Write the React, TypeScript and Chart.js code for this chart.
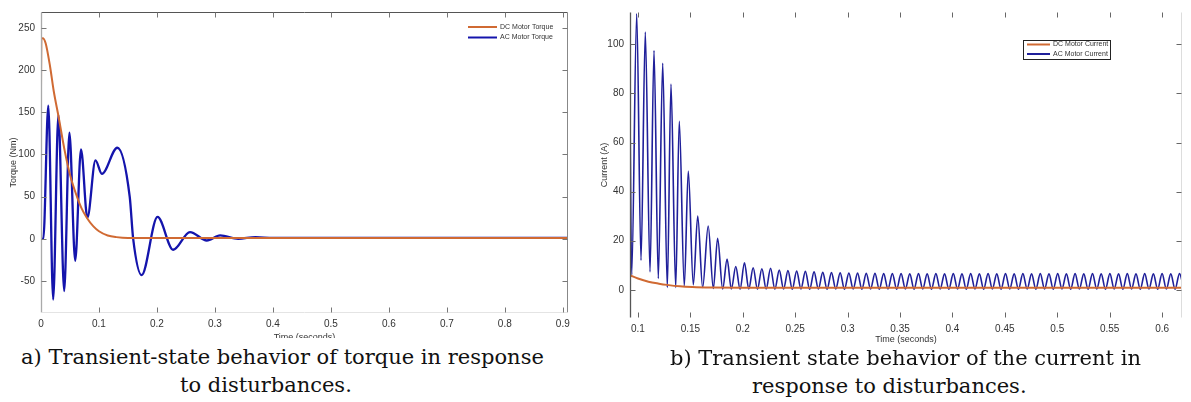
import React, { useEffect, useRef } from "react";
import { Chart, registerables } from "chart.js";
Chart.register(...registerables);

// ---------- (a) Torque chart data ----------
const torqueXTicks = [0, 0.1, 0.2, 0.3, 0.4, 0.5, 0.6, 0.7, 0.8, 0.9];
const torqueYTicks = [-50, 0, 50, 100, 150, 200, 250];
const dcTorqueTime = [0, 0.0006, 0.003, 0.008, 0.0155, 0.022, 0.03, 0.041, 0.05, 0.062, 0.07, 0.079, 0.09, 0.1, 0.115, 0.13, 0.15, 0.2, 0.909];
const dcTorqueValue = [178, 236, 238, 232, 205, 175, 146, 104, 76, 50, 36, 25, 15, 9, 4, 2, 1, 1, 1];
const acTorqueTime = [0, 0.004, 0.0126, 0.021, 0.03, 0.04, 0.049, 0.059, 0.069, 0.08, 0.094, 0.105, 0.1316, 0.153, 0.159, 0.1736, 0.201, 0.228, 0.257, 0.286, 0.309, 0.34, 0.37, 0.4, 0.45, 0.909];
const acTorqueValue = [0, 0, 158, -72, 147, -62, 126, -26, 106, 25, 93, 77, 108, 50, 0, -43, 26, -13, 8, -2, 4, 0, 2, 1, 1, 1];

// ---------- (b) Current chart data ----------
const currentXTicks = [0.1, 0.15, 0.2, 0.25, 0.3, 0.35, 0.4, 0.45, 0.5, 0.55, 0.6];
const currentYTicks = [0, 20, 40, 60, 80, 100];
const dcCurrentTime = [0.0924, 0.1, 0.11, 0.12, 0.1277, 0.14, 0.152, 0.17, 0.2, 0.619];
const dcCurrentValue = [5.9, 4.6, 3.3, 2.5, 2.0, 1.4, 1.1, 0.9, 0.8, 0.8];
const acCurrentTime = [
  0.0924, 0.094, 0.0988, 0.1029, 0.107, 0.1115, 0.1153, 0.1194, 0.1236, 0.128, 0.1315, 0.136, 0.1394, 0.1442, 0.148, 0.1528, 0.157, 0.1617, 0.167, 0.1719, 0.176, 0.1808,
  0.185, 0.1891, 0.1933, 0.1974, 0.2016, 0.2057, 0.2099, 0.214, 0.2182, 0.2223, 0.2265, 0.2306, 0.2348, 0.2389, 0.2431, 0.2472, 0.2514, 0.2555, 0.2597, 0.2638,
  0.268, 0.2721, 0.2763, 0.2804, 0.2846, 0.2887, 0.2929, 0.297, 0.3012, 0.3053, 0.3095, 0.3136, 0.3178, 0.3219, 0.3261, 0.3302, 0.3344, 0.3385, 0.3427, 0.3468,
  0.351, 0.3551, 0.3593, 0.3634, 0.3676, 0.3717, 0.3759, 0.38, 0.3842, 0.3883, 0.3925, 0.3966, 0.4008, 0.4049, 0.4091, 0.4132, 0.4174, 0.4215, 0.4257, 0.4298,
  0.434, 0.4381, 0.4423, 0.4464, 0.4506, 0.4547, 0.4589, 0.463, 0.4672, 0.4713, 0.4755, 0.4796, 0.4838, 0.4879, 0.4921, 0.4962, 0.5004, 0.5045, 0.5087, 0.5128,
  0.517, 0.5211, 0.5253, 0.5294, 0.5336, 0.5377, 0.5419, 0.546, 0.5502, 0.5543, 0.5585, 0.5626, 0.5668, 0.5709, 0.5751, 0.5792, 0.5834, 0.5875, 0.5917, 0.5958,
  0.6, 0.6041, 0.6083, 0.6124, 0.6166, 0.6207,
];
const acCurrentValue = [
  72, 6, 112.5, 12, 105, 7.3, 97.5, 4.6, 92.3, 0.9, 83.8, 0.9, 68.7, 1.5, 48.4, 2, 30, 0.9, 26, 0.5, 21, 0.3,
  12.5, 0.3, 9.5, 0.2, 11, 0.3, 9, 0.2, 8.6, 0.3, 8.8, 0.2, 8, 0.3, 7.8, 0.2, 7.6, 0.3, 7.5, 0.2,
  7.3, 0.3, 7.1, 0.2, 7, 0.3, 6.9, 0.2, 6.8, 0.3, 6.8, 0.2, 6.7, 0.3, 6.7, 0.2, 6.6, 0.3, 6.6, 0.2,
  6.6, 0.3, 6.5, 0.2, 6.6, 0.3, 6.5, 0.2, 6.6, 0.3, 6.5, 0.2, 6.6, 0.3, 6.5, 0.2, 6.6, 0.3, 6.5, 0.2,
  6.6, 0.3, 6.5, 0.2, 6.6, 0.3, 6.5, 0.2, 6.6, 0.3, 6.5, 0.2, 6.6, 0.3, 6.5, 0.2, 6.6, 0.3, 6.5, 0.2,
  6.6, 0.3, 6.5, 0.2, 6.6, 0.3, 6.5, 0.2, 6.6, 0.3, 6.5, 0.2, 6.6, 0.3, 6.5, 0.2, 6.6, 0.3, 6.5, 0.2,
  6.6, 0.3, 6.5, 0.2, 6.6, 0.3,
];

const DC_COLOR = "#D06A33";
const AC_COLOR_A = "#1414AC";
const AC_COLOR_B = "#20209A";
const SANS = '"Liberation Sans", Arial, sans-serif';

const toPoints = (t: number[], v: number[]) => t.map((x, i) => ({ x, y: v[i] }));

const framePlugin = {
  id: "matlabFrame",
  afterDraw(chart: any, _args: any, opts: any) {
    const { ctx, chartArea: a, scales } = chart;
    const xs = scales.x;
    const ys = scales.y;
    ctx.save();
    const line = (x1: number, y1: number, x2: number, y2: number, c: string, w = 1) => {
      ctx.strokeStyle = c;
      ctx.lineWidth = w;
      ctx.beginPath();
      ctx.moveTo(x1, y1);
      ctx.lineTo(x2, y2);
      ctx.stroke();
    };
    const L = Math.round(a.left) + 0.5;
    const R = Math.round(a.right) - 0.5;
    const T = Math.round(a.top) + 0.5;
    const B = Math.round(a.bottom) - 0.5;
    if (opts.borderTop) line(L, T, R, T, opts.borderTop);
    if (opts.borderRight) line(R, T, R, B, opts.borderRight);
    if (opts.borderLeft) line(L, T, L, B, opts.borderLeft, 1.3);
    if (opts.borderBottom) line(L, B, R, B, opts.borderBottom);
    const tl = 5;
    for (const t of xs.ticks) {
      const px = Math.round(xs.getPixelForValue(t.value)) + 0.5;
      if (px < a.left + 2 || px > a.right - 2) continue;
      line(px, B, px, B - tl, opts.tickColor);
      line(px, T, px, T + tl, opts.tickColor);
    }
    for (const t of ys.ticks) {
      const py = Math.round(ys.getPixelForValue(t.value)) + 0.5;
      if (py < a.top + 2 || py > a.bottom - 2) continue;
      line(L, py, L + tl, py, opts.tickColor);
      line(R, py, R - tl, py, opts.tickColor);
    }
    // axis titles
    ctx.fillStyle = "#333";
    ctx.font = `9px ${SANS}`;
    ctx.textAlign = "center";
    ctx.textBaseline = "middle";
    ctx.fillText(opts.xTitle, (a.left + a.right) / 2, a.bottom + opts.xTitleOffset);
    ctx.save();
    ctx.translate(a.left - opts.yTitleOffset, (a.top + a.bottom) / 2);
    ctx.rotate(-Math.PI / 2);
    ctx.fillText(opts.yTitle, 0, 0);
    ctx.restore();
    // legend
    const lg = opts.legend;
    if (lg.box) {
      ctx.fillStyle = "#fff";
      ctx.fillRect(a.right - lg.box[0], a.top + lg.box[1], lg.box[2], lg.box[3]);
      ctx.strokeStyle = "#222";
      ctx.lineWidth = 1;
      ctx.strokeRect(Math.round(a.right - lg.box[0]) + 0.5, Math.round(a.top + lg.box[1]) + 0.5, lg.box[2], lg.box[3]);
    }
    ctx.font = `${lg.fontSize}px ${SANS}`;
    ctx.textAlign = "left";
    ctx.textBaseline = "middle";
    chart.data.datasets.forEach((ds: any, i: number) => {
      const yy = a.top + lg.y0 + i * lg.dy;
      line(a.right - lg.x1, yy, a.right - lg.x2, yy, ds.borderColor, 2);
      ctx.fillStyle = "#333";
      ctx.fillText(ds.label, a.right - lg.tx, yy);
    });
    ctx.restore();
  },
};

function makeScales(xMin: number, xMax: number, yMin: number, yMax: number, xTicks: number[], yTicks: number[], yWidth: number, xHeight: number, xLabelPad: number) {
  return {
    x: {
      type: "linear",
      min: xMin,
      max: xMax,
      grid: { display: false, drawTicks: false },
      border: { display: false },
      afterBuildTicks: (s: any) => {
        s.ticks = xTicks.map((v) => ({ value: v }));
      },
      afterFit: (s: any) => {
        s.height = xHeight;
      },
      ticks: {
        autoSkip: false,
        maxRotation: 0,
        padding: xLabelPad,
        color: "#333",
        font: { family: SANS, size: 10 },
        callback: (v: number) => String(v),
      },
    },
    y: {
      type: "linear",
      min: yMin,
      max: yMax,
      grid: { display: false, drawTicks: false },
      border: { display: false },
      afterBuildTicks: (s: any) => {
        s.ticks = yTicks.map((v) => ({ value: v }));
      },
      afterFit: (s: any) => {
        s.width = yWidth;
      },
      ticks: {
        autoSkip: false,
        padding: 6,
        color: "#333",
        font: { family: SANS, size: 10 },
        callback: (v: number) => String(v),
      },
    },
  };
}

function ChartCanvas({ config, left, top, width, height }: any) {
  const ref = useRef<HTMLCanvasElement | null>(null);
  useEffect(() => {
    if (!ref.current) return;
    const chart = new Chart(ref.current, config);
    return () => chart.destroy();
  }, []);
  return (
    <canvas
      ref={ref}
      width={width}
      height={height}
      style={{ position: "absolute", left, top, width, height }}
    />
  );
}

const torqueConfig: any = {
  type: "line",
  data: {
    datasets: [
      {
        label: "DC Motor Torque",
        data: toPoints(dcTorqueTime, dcTorqueValue),
        borderColor: DC_COLOR,
        borderWidth: 2,
        pointRadius: 0,
        cubicInterpolationMode: "monotone",
      },
      {
        label: "AC Motor Torque",
        data: toPoints(acTorqueTime, acTorqueValue),
        borderColor: AC_COLOR_A,
        borderWidth: 2.3,
        pointRadius: 0,
        cubicInterpolationMode: "monotone",
      },
    ],
  },
  options: {
    responsive: false,
    animation: false,
    layout: { padding: { top: 9, right: 22, left: 0, bottom: 0 } },
    plugins: {
      legend: { display: false },
      tooltip: { enabled: false },
      matlabFrame: {
        borderTop: "#555",
        borderRight: "#888",
        borderLeft: "#aaa",
        borderBottom: "#e4e4e4",
        tickColor: "#777",
        xTitle: "Time (seconds)",
        yTitle: "Torque (Nm)",
        xTitleOffset: 24.5,
        yTitleOffset: 27,
        legend: { x1: 100, x2: 71, tx: 68, y0: 15, dy: 10.5, fontSize: 7 },
      },
    },
    scales: makeScales(0, 0.909, -88, 269, torqueXTicks, torqueYTicks, 41, 25, 5),
  },
  plugins: [framePlugin],
};

const currentConfig: any = {
  type: "line",
  data: {
    datasets: [
      {
        label: "DC Motor Current",
        data: toPoints(dcCurrentTime, dcCurrentValue),
        borderColor: DC_COLOR,
        borderWidth: 2,
        pointRadius: 0,
        cubicInterpolationMode: "monotone",
      },
      {
        label: "AC Motor Current",
        data: toPoints(acCurrentTime, acCurrentValue),
        borderColor: AC_COLOR_B,
        borderWidth: 1.6,
        pointRadius: 0,
        cubicInterpolationMode: "monotone",
      },
    ],
  },
  options: {
    responsive: false,
    animation: false,
    layout: { padding: { top: 10, right: 9, left: 0, bottom: 0 } },
    plugins: {
      legend: { display: false },
      tooltip: { enabled: false },
      matlabFrame: {
        borderTop: null,
        borderRight: "#ddd",
        borderLeft: "#555",
        borderBottom: null,
        tickColor: "#666",
        xTitle: "Time (seconds)",
        yTitle: "Current (A)",
        xTitleOffset: 22,
        yTitleOffset: 25,
        legend: { box: [159, 28, 87, 19], x1: 155, x2: 132, tx: 129, y0: 32.5, dy: 9.5, fontSize: 7 },
      },
    },
    scales: makeScales(0.0924, 0.619, -11.5, 113.2, currentXTicks, currentYTicks, 50, 27, 5),
  },
  plugins: [framePlugin],
};

const captionStyle: any = {
  position: "absolute",
  fontFamily: '"DejaVu Serif", serif',
  fontSize: 21,
  lineHeight: "21px",
  whiteSpace: "nowrap",
  color: "#111",
};

export default function App() {
  return (
    <div style={{ position: "absolute", left: 0, top: 0, width: 1191, height: 402, background: "#fff", overflow: "hidden" }}>
      <ChartCanvas config={torqueConfig} left={0} top={0} width={590} height={338} />
      <ChartCanvas config={currentConfig} left={580} top={0} width={611} height={345} />
      <div style={{ ...captionStyle, left: 21, top: 347 }}>a) Transient-state behavior of torque in response</div>
      <div style={{ ...captionStyle, left: 180, top: 375 }}>to disturbances.</div>
      <div style={{ ...captionStyle, left: 670, top: 348 }}>b) Transient state behavior of the current in</div>
      <div style={{ ...captionStyle, left: 752, top: 376 }}>response to disturbances.</div>
    </div>
  );
}
